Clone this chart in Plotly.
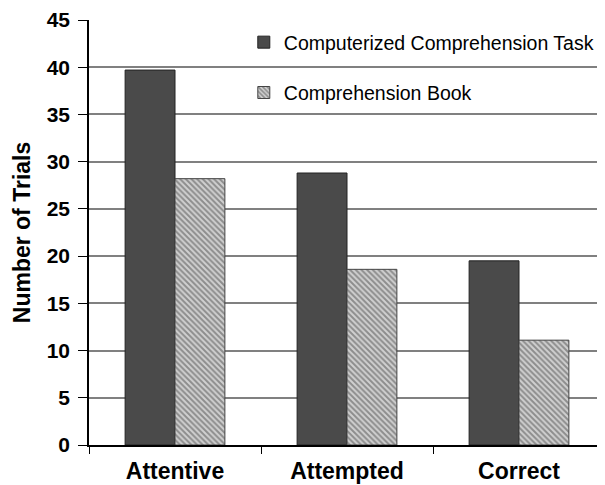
import plotly.graph_objects as go

categories = ["Attentive", "Attempted", "Correct"]
computerized = [39.7, 28.8, 19.5]
book = [28.2, 18.6, 11.1]
y_ticks = [0, 5, 10, 15, 20, 25, 30, 35, 40, 45]

FONT = "Liberation Sans, Arial, sans-serif"

fig = go.Figure()
fig.add_trace(go.Bar(
    x=categories, y=computerized, name="Computerized Comprehension Task",
    legendgroup="a",
    marker=dict(color="#4a4a4a", line=dict(color="#222222", width=1)),
))
fig.add_trace(go.Bar(
    x=categories, y=book, name="Comprehension Book",
    legendgroup="b",
    marker=dict(color="#d0d0d0",
                line=dict(color="#444444", width=1),
                pattern=dict(shape="\\", fgcolor="#4a4a4a", bgcolor="#d0d0d0",
                             size=4, solidity=0.5)),
))

fig.update_layout(
    width=597, height=477,
    margin=dict(l=81, r=0, t=12, b=40),
    paper_bgcolor="white", plot_bgcolor="white",
    barmode="group", bargap=0.42, bargroupgap=0.0,
    font=dict(family=FONT, color="black"),
    showlegend=True,
    legend=dict(x=0.3, y=0.993, xanchor="left", yanchor="top",
                bgcolor="rgba(0,0,0,0)", font=dict(size=19.5, family=FONT),
                traceorder="grouped", tracegroupgap=22,
                itemwidth=30),
    xaxis=dict(range=[-0.5, 2.5], showline=True, linecolor="black", linewidth=1.5,
               ticks="outside", tickson="boundaries", ticklen=7, tickcolor="black",
               tickfont=dict(size=23, family=FONT, weight="bold"),
               ticklabelstandoff=5,
               showgrid=False, automargin=False),
    yaxis=dict(range=[0, 45], tickvals=y_ticks, showline=True, linecolor="black",
               linewidth=1.5, ticks="outside", ticklen=9, tickcolor="black",
               showgrid=True, gridcolor="#808080", gridwidth=1.6,
               tickfont=dict(size=21, family=FONT, weight="bold"), zeroline=False,
               ticklabelstandoff=4, automargin=False,
               title=dict(text="Number of Trials",
                          font=dict(size=23, family=FONT, weight="bold"), standoff=10)),
)

fig.write_html("out.html")
